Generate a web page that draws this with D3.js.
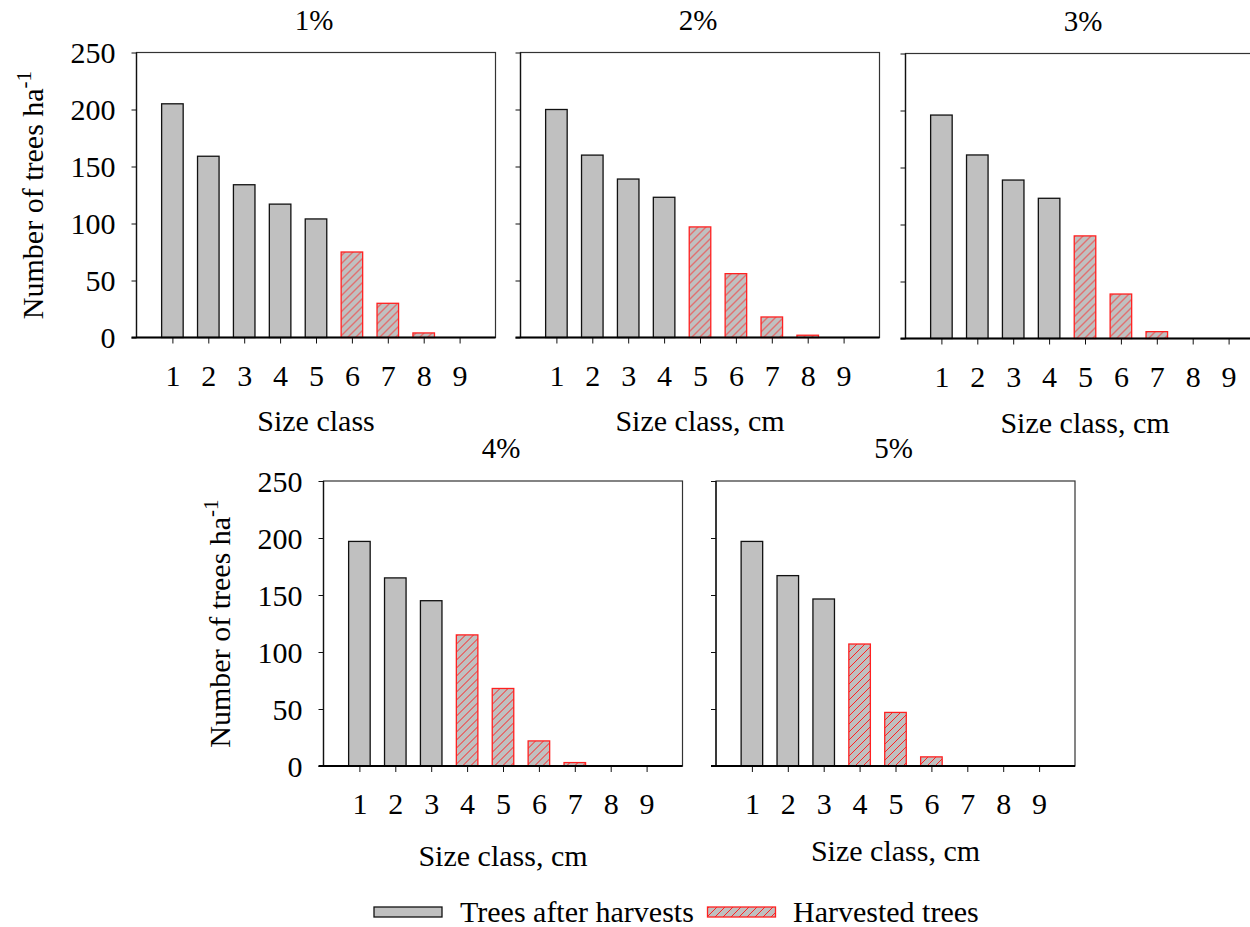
<!DOCTYPE html>
<html>
<head>
    <meta charset="utf-8">
    <title>Size class distribution after harvest</title>
    <script src="https://d3js.org/d3.v7.min.js"></script>
    <style>
        body {
            margin: 0;
            background-color: #ffffff;
        }
        svg text {
            font-family: "Liberation Serif", "Times New Roman", serif;
            fill: #000;
        }
    </style>
</head>
<body>
    <script>
        var width = 1250;
        var height = 927;

        // data
        const sizeClasses = [1, 2, 3, 4, 5, 6, 7, 8, 9];
        const panelTitles = ["1%", "2%", "3%", "4%", "5%"];
        const xTitles = ["Size class", "Size class, cm", "Size class, cm", "Size class, cm", "Size class, cm"];
        const yTicks = [0, 50, 100, 150, 200, 250];
        const trees1 = [205, 159, 134, 117, 104, 75, 30, 4, 0];
        const trees2 = [200, 160, 139, 123, 97, 56, 18, 2, 0];
        const trees3 = [196, 161, 139, 123, 90, 39, 6, 0, 0];
        const trees4 = [197, 165, 145, 115, 68, 22, 3, 0, 0];
        const trees5 = [197, 167, 146.5, 107, 47, 8, 0, 0, 0];
        const firstHarvested = [6, 5, 5, 4, 4];
        const legendLabels = ["Trees after harvests", "Harvested trees"];

        const allTrees = [trees1, trees2, trees3, trees4, trees5];

        // panel placement
        const layout = [
            { left: 136.5, top: 52.5, yLabels: true,  xTitleDy: 93 },
            { left: 520.5, top: 52.5, yLabels: false, xTitleDy: 93 },
            { left: 905.5, top: 53.5, yLabels: false, xTitleDy: 94 },
            { left: 323.5, top: 481,  yLabels: true,  xTitleDy: 100 },
            { left: 716,   top: 481,  yLabels: false, xTitleDy: 95 }
        ];
        const pw = 359, ph = 285;
        const grey = "#c0c0c0";
        const fs = "30px";

        var svg = d3.select("body")
            .append("svg")
            .attr("width", width)
            .attr("height", height);

        var defs = svg.append("defs");
        var pat = defs.append("pattern")
            .attr("id", "hatch")
            .attr("patternUnits", "userSpaceOnUse")
            .attr("width", 8)
            .attr("height", 8);
        pat.append("rect").attr("width", 8).attr("height", 8).attr("fill", grey);
        pat.append("path")
            .attr("d", "M-2,2 L2,-2 M0,8 L8,0 M6,10 L10,6")
            .attr("stroke", "#ff2020")
            .attr("stroke-width", 1);

        var x = d3.scaleLinear().domain([0, 10]).range([0, pw]);
        var y = d3.scaleLinear().domain([0, 250]).range([ph, 0]);
        var barW = x(0.6) - x(0);

        allTrees.forEach(function (vals, i) {
            var L = layout[i];
            var g = svg.append("g").attr("transform", "translate(" + L.left + "," + L.top + ")");

            // frame
            g.append("rect")
                .attr("width", pw)
                .attr("height", ph)
                .attr("fill", "none")
                .attr("stroke", "#333")
                .attr("stroke-width", 1.2);

            // bars
            g.selectAll("rect.bar")
                .data(sizeClasses.map(function (c, j) { return { c: c, v: vals[j] }; })
                    .filter(function (d) { return d.v > 0; }))
                .enter()
                .append("rect")
                .attr("class", "bar")
                .attr("x", function (d) { return x(d.c) - barW / 2; })
                .attr("y", function (d) { return y(d.v); })
                .attr("width", barW)
                .attr("height", function (d) { return y(0) - y(d.v); })
                .attr("fill", function (d) { return d.c >= firstHarvested[i] ? "url(#hatch)" : grey; })
                .attr("stroke", function (d) { return d.c >= firstHarvested[i] ? "#ff2020" : "#111"; })
                .attr("stroke-width", 1.3);

            // y axis
            var ya = g.append("g")
                .call(d3.axisLeft(y).tickValues(yTicks).tickSize(5)
                    .tickFormat(L.yLabels ? d3.format("d") : function () { return ""; }));
            ya.select(".domain").remove();
            ya.selectAll(".tick line").attr("stroke", "#111");
            ya.selectAll("text")
                .attr("x", -21)
                .attr("dy", "0.34em")
                .style("font-size", fs)
                .style("font-family", "'Liberation Serif', serif");
            g.append("line")
                .attr("x1", 0).attr("x2", 0)
                .attr("y1", 0).attr("y2", ph)
                .attr("stroke", "#111").attr("stroke-width", 1.3);

            // x axis
            var xa = g.append("g")
                .attr("transform", "translate(0," + ph + ")")
                .call(d3.axisBottom(x).tickValues(sizeClasses).tickSize(6).tickFormat(d3.format("d")));
            xa.select(".domain").remove();
            xa.selectAll(".tick line").attr("stroke", "#111");
            xa.selectAll("text")
                .attr("y", 48)
                .attr("dy", 0)
                .style("font-size", fs)
                .style("font-family", "'Liberation Serif', serif");
            g.append("line")
                .attr("x1", -5).attr("x2", pw)
                .attr("y1", ph).attr("y2", ph)
                .attr("stroke", "#000").attr("stroke-width", 2);

            // titles
            g.append("text")
                .attr("x", pw / 2 - 2)
                .attr("y", -23)
                .attr("text-anchor", "middle")
                .style("font-size", "29px")
                .text(panelTitles[i]);

            g.append("text")
                .attr("x", pw / 2)
                .attr("y", ph + L.xTitleDy)
                .attr("text-anchor", "middle")
                .style("font-size", fs)
                .text(xTitles[i]);

            if (L.yLabels) {
                var yl = g.append("text")
                    .attr("transform", "translate(-94," + (ph / 2) + ") rotate(-90)")
                    .attr("text-anchor", "middle")
                    .style("font-size", fs);
                yl.append("tspan").text("Number of trees ha");
                yl.append("tspan").attr("dy", -12).style("font-size", "21px").text("-1");
            }
        });

        // legend
        var leg = svg.append("g");
        leg.append("rect")
            .attr("x", 374).attr("y", 907).attr("width", 68).attr("height", 10)
            .attr("fill", grey).attr("stroke", "#111").attr("stroke-width", 1.3);
        leg.append("text")
            .attr("x", 460).attr("y", 922)
            .style("font-size", fs)
            .text(legendLabels[0]);
        leg.append("rect")
            .attr("x", 707.5).attr("y", 907).attr("width", 68).attr("height", 10)
            .attr("fill", "url(#hatch)").attr("stroke", "#ff2020").attr("stroke-width", 1.3);
        leg.append("text")
            .attr("x", 793).attr("y", 922)
            .style("font-size", fs)
            .text(legendLabels[1]);
    </script>
</body>
</html>
